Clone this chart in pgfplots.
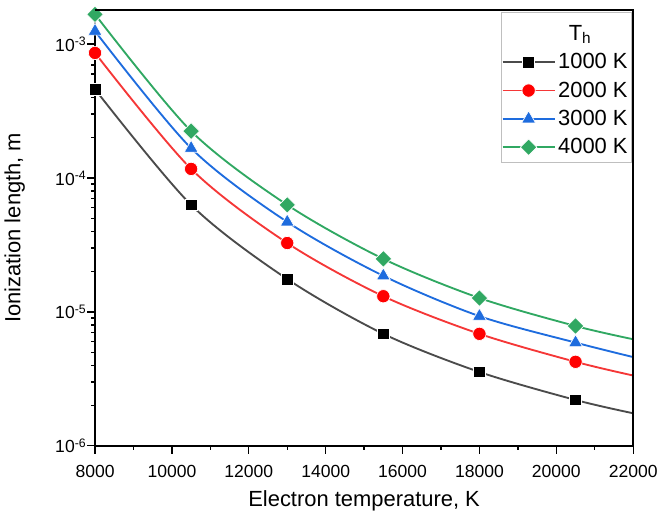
\documentclass[border=0pt]{standalone}
\usepackage{fontspec}
\setmainfont{Liberation Sans}
\usepackage{pgfplots}
\pgfplotsset{compat=1.18}
\definecolor{cgray}{RGB}{75,75,75}
\definecolor{cred}{RGB}{245,55,55}
\definecolor{cblue}{RGB}{30,108,222}
\definecolor{cgreen}{RGB}{48,168,98}

\begin{document}
\begin{tikzpicture}
\begin{axis}[
    name=main,
    scale only axis,
    width=405pt, height=328pt,
    axis lines=box,
    ymode=log,
    xmin=8000, xmax=22000,
    ymin=1e-6, ymax=1.8e-3,
    xtick={8000,10000,...,22000},
    minor x tick num=1,
    ytick={1e-6,1e-5,1e-4,1e-3},
    minor ytick={2e-6,3e-6,4e-6,5e-6,6e-6,7e-6,8e-6,9e-6,
                 2e-5,3e-5,4e-5,5e-5,6e-5,7e-5,8e-5,9e-5,
                 2e-4,3e-4,4e-4,5e-4,6e-4,7e-4,8e-4,9e-4},
    yticklabels={10\textsuperscript{-6},10\textsuperscript{-5},10\textsuperscript{-4},10\textsuperscript{-3}},
    scaled x ticks=false,
    /pgf/number format/.cd, 1000 sep={}, assume math mode=true, /pgfplots/.cd,
    tick align=outside,
    xtick pos=left, ytick pos=left,
    major tick length=6pt,
    minor tick length=3pt,
    every tick/.style={black, line width=1pt},
    axis line style={black, line width=1.4pt},
    tick label style={font=\fontsize{13.2}{15}\selectfont},
    xticklabel style={yshift=-5pt},
    yticklabel style={xshift=3pt},
    label style={font=\fontsize{16.5}{19}\selectfont},
    xlabel={Electron temperature, K},
    ylabel={Ionization length, m},
    xlabel style={yshift=-3pt},
    ylabel style={yshift=16pt},
    legend style={at={(rel axis cs:1,1)}, anchor=north east, xshift=-1.5pt, yshift=-1.8pt,
        draw=black!25, fill=white, font=\fontsize{16.5}{19}\selectfont,
        row sep=4.3pt, inner xsep=0.5pt, inner ysep=3pt},
    legend cell align=left,
    legend image code/.code={\draw[mark indices={2}] plot coordinates {(0pt,0pt) (19.5pt,0pt) (39pt,0pt)};},
    every axis plot/.append style={line width=1.4pt},
]
\addlegendimage{empty legend}
\addlegendentry{\rule{0pt}{16pt}\hspace{8pt}T\textsubscript{h}}

\addplot[cgray, smooth, mark=square*, mark size=4.4pt, mark indices={1,2,3,4,5,6},
    mark options={fill=black, draw=white, line width=0.5pt}]
coordinates {(8000,4.6e-4) (10500,6.3e-5) (13000,1.76e-5) (15500,6.86e-6) (18000,3.56e-6) (20500,2.2e-6) (22000,1.75e-6)};
\addlegendentry{1000 K}

\addplot[cred, smooth, mark=*, mark size=5pt, mark indices={1,2,3,4,5,6},
    mark options={fill=red, draw=white, line width=0.5pt}]
coordinates {(8000,8.6e-4) (10500,1.17e-4) (13000,3.27e-5) (15500,1.31e-5) (18000,6.86e-6) (20500,4.24e-6) (22000,3.35e-6)};
\addlegendentry{2000 K}

\addplot[cblue, smooth, mark=triangle*, mark size=6pt, mark indices={1,2,3,4,5,6},
    mark options={fill=cblue, draw=white, line width=0.5pt}]
coordinates {(8000,1.25e-3) (10500,1.67e-4) (13000,4.7e-5) (15500,1.86e-5) (18000,9.3e-6) (20500,5.9e-6) (22000,4.6e-6)};
\addlegendentry{3000 K}

\addplot[cgreen, smooth, mark=square*, mark size=4.4pt, mark indices={1,2,3,4,5,6},
    mark options={fill=cgreen, draw=white, line width=0.5pt, rotate=45}]
coordinates {(8000,1.67e-3) (10500,2.24e-4) (13000,6.3e-5) (15500,2.49e-5) (18000,1.27e-5) (20500,7.85e-6) (22000,6.25e-6)};
\addlegendentry{4000 K}
\end{axis}
\draw[black, line width=1.4pt] (main.north west) -- (main.north east) -- (main.south east);
\path ([yshift=7.5pt]main.north west);
\end{tikzpicture}
\end{document}
